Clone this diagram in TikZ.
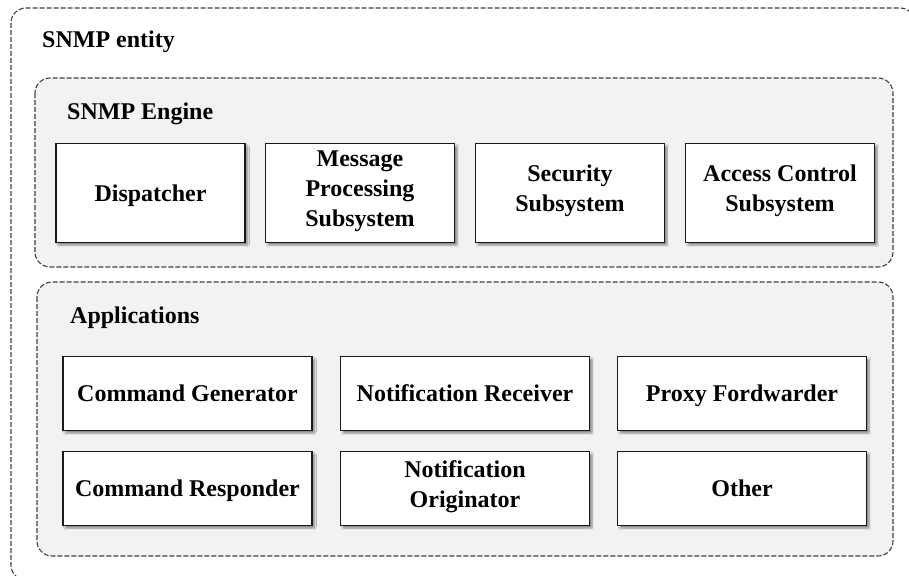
\documentclass[tikz,border=0pt]{standalone}
\usepackage{fontspec}
\setmainfont{Liberation Serif}
\usetikzlibrary{shadows.blur}

\tikzset{
  group/.style={draw=black!75, dashed, dash pattern=on 5pt off 2pt, line width=1.1pt, rounded corners=15pt},
  title/.style={anchor=base west, inner sep=0pt, font=\fontsize{24}{30}\selectfont\bfseries},
  unit/.style={draw=black!90, line width=1.3pt, fill=white, align=center, inner sep=2pt,
    font=\fontsize{24}{30}\selectfont\bfseries, execute at begin node={\strut\rule{0pt}{25pt}},
    blur shadow={shadow xshift=2.5pt, shadow yshift=-2.5pt, shadow opacity=45, shadow blur steps=6, shadow blur extra rounding=1pt}},
  engunit/.style={unit, minimum width=189pt, minimum height=99pt},
  appunit/.style={unit, minimum width=249pt, minimum height=74pt}
}

\begin{document}
\begin{tikzpicture}[x=1pt, y=-1pt]
\useasboundingbox (0,0) rectangle (909,575);
\clip (0,0) rectangle (909,575);
\fill[white] (0,0) rectangle (909,575);

% containers
\draw[group] (11,8) rectangle (915,580);
\node[title] (entity) at (42,48) {SNMP entity};

\draw[group, fill=black!5] (35,78) rectangle (893,267);
\node[title] (engine) at (67,120) {SNMP Engine};

\draw[group, fill=black!5] (37,282) rectangle (893,556);
\node[title] (apps) at (70,323) {Applications};

% engine parts
\node[engunit] (dispatcher) at (150.5,193) {Dispatcher};
\node[engunit] (mps) at (360,193) {Message\\Processing\\Subsystem};
\node[engunit] (security) at (570,193) {Security\\Subsystem};
\node[engunit] (access) at (780,193) {Access Control\\Subsystem};

% applications
\node[appunit] (cmdgen) at (187.5,393.5) {Command Generator};
\node[appunit] (notrec) at (465,393.5) {Notification Receiver};
\node[appunit] (proxy) at (742,393.5) {Proxy Fordwarder};
\node[appunit] (cmdresp) at (187.5,488.5) {Command Responder};
\node[appunit] (notorig) at (465,488.5) {Notification\\Originator};
\node[appunit] (other) at (742,488.5) {Other};
\end{tikzpicture}
\end{document}
